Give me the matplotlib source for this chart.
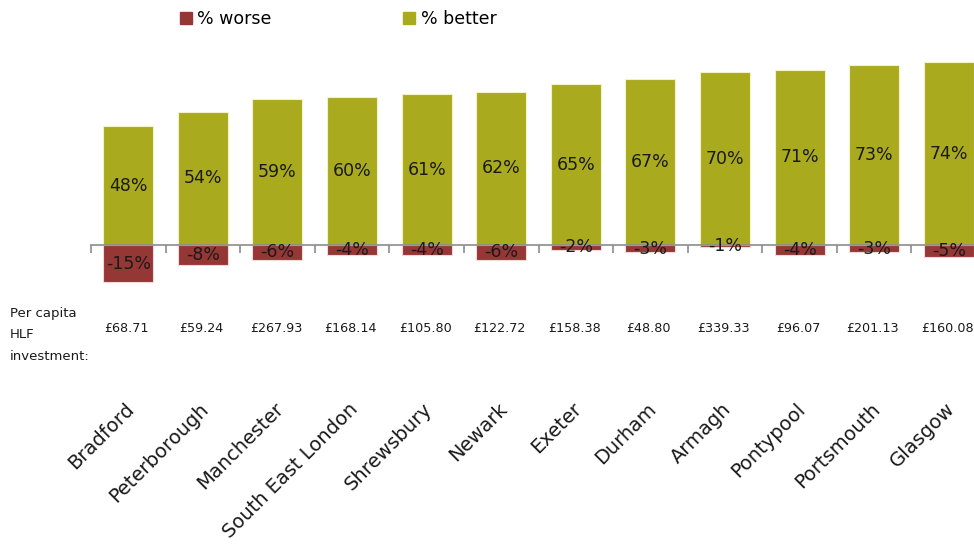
import matplotlib.pyplot as plt
import matplotlib.transforms as mtransforms
from matplotlib.patches import Patch

cities = ["Bradford", "Peterborough", "Manchester", "South East London", "Shrewsbury",
          "Newark", "Exeter", "Durham", "Armagh", "Pontypool", "Portsmouth", "Glasgow"]
better = [48, 54, 59, 60, 61, 62, 65, 67, 70, 71, 73, 74]
worse = [-15, -8, -6, -4, -4, -6, -2, -3, -1, -4, -3, -5]
investment = ["£68.71", "£59.24", "£267.93", "£168.14", "£105.80", "£122.72",
              "£158.38", "£48.80", "£339.33", "£96.07", "£201.13", "£160.08"]

GREEN = "#aaaa1f"
RED = "#953735"

fig = plt.figure(figsize=(9.74, 5.47), dpi=100)
ax = fig.add_axes([0.0934, 0.4618, 0.919, 0.4516])

x = list(range(len(cities)))
ax.bar(x, better, width=0.67, color=GREEN, edgecolor="#f2f2c8", linewidth=0.8)
ax.bar(x, worse, width=0.67, color=RED, edgecolor="#f2d8d8", linewidth=0.8)

for i in x:
    ax.text(i, better[i] / 2, f"{better[i]}%", ha="center", va="center", fontsize=12.5, color="#1a1a1a")
    ax.text(i, worse[i] / 2, f"{worse[i]}%", ha="center", va="center", fontsize=12.5, color="#1a1a1a")

ax.set_xlim(-0.5, len(cities) - 0.5)
ax.set_ylim(-20, 80)
for s in ["top", "right", "left"]:
    ax.spines[s].set_visible(False)
ax.spines["bottom"].set_position(("data", 0))
ax.spines["bottom"].set_color("#8c8c8c")
ax.spines["bottom"].set_linewidth(1.2)
ax.set_yticks([])
ax.set_xticks([i - 0.5 for i in range(len(cities) + 1)])
ax.set_xticklabels([])
ax.tick_params(axis="x", direction="out", length=6, color="#8c8c8c", width=1.2)

trans = mtransforms.blended_transform_factory(ax.transData, fig.transFigure)
for i in x:
    ax.text(i - 0.02, 1 - 329 / 547, investment[i], transform=trans, ha="center", va="center",
            fontsize=9.2, color="#1a1a1a")
    ax.text(i + 0.04, 1 - 406 / 547, cities[i], transform=trans, ha="right", va="center",
            rotation=45, rotation_mode="anchor", fontsize=14, color="#1a1a1a")

fig.text(10 / 974, 1 - 335 / 547, "Per capita\nHLF\ninvestment:", ha="left", va="center",
         fontsize=9.5, linespacing=1.85, color="#1a1a1a")

handles = [Patch(color=RED, label="% worse"), Patch(color=GREEN, label="% better")]
fig.legend(handles=handles, loc="upper left", bbox_to_anchor=(164 / 974, 1.01), ncol=2,
           frameon=False, fontsize=12.5, handlelength=0.7, handleheight=0.7,
           handletextpad=0.3, columnspacing=7.6)

fig.savefig("out.png", dpi=100)
